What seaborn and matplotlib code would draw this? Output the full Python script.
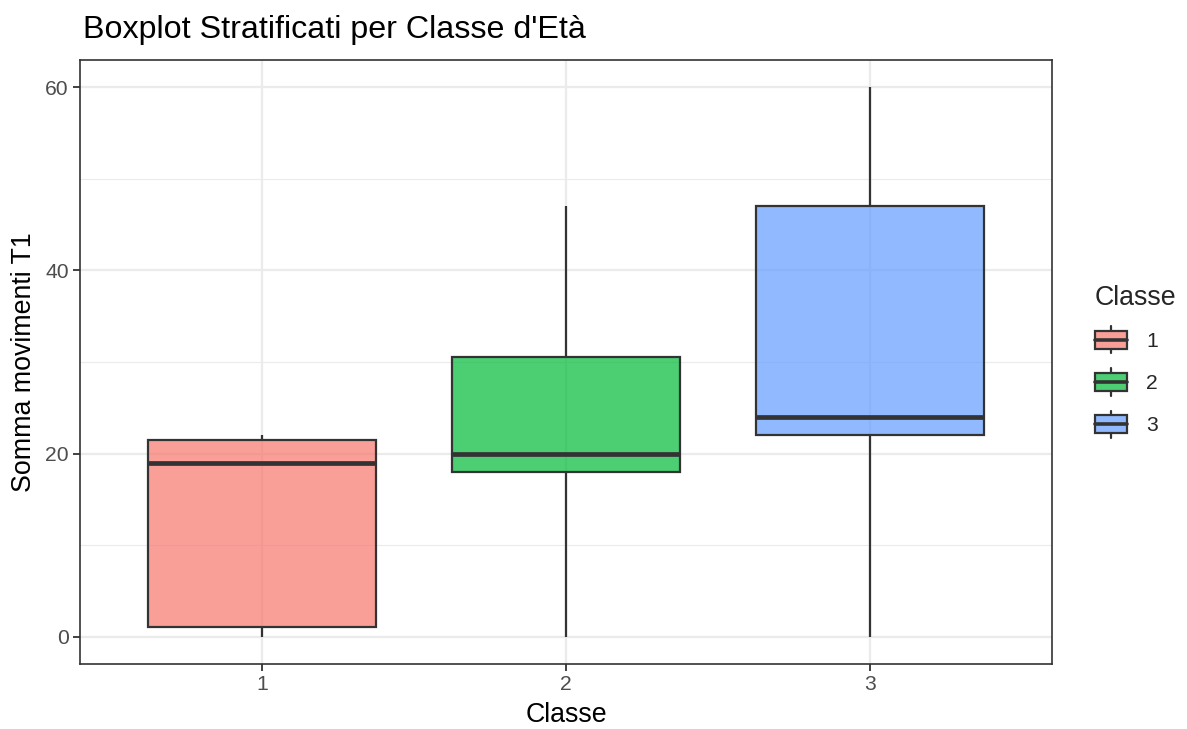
import matplotlib
matplotlib.use("Agg")
import matplotlib.pyplot as plt
import numpy as np
import pandas as pd
import seaborn as sns
from matplotlib.colors import to_rgba
from matplotlib.legend_handler import HandlerBase
from matplotlib.lines import Line2D
from matplotlib.patches import Rectangle
from matplotlib.ticker import MultipleLocator

# values
classes = ["1", "2", "3"]
low = [0, 0, 0]
q1 = [1, 18, 22]
median = [19, 20, 24]
q3 = [21.5, 30.5, 47]
high = [22, 47, 60]
colors = ["#F8766D", "#00BA38", "#619CFF"]

# five values per class give exactly these quartiles
rows = []
for c, a, b, m, d, e in zip(classes, low, q1, median, q3, high):
    for v in (a, b, m, d, e):
        rows.append({"Classe": c, "Somma movimenti T1": v})
df = pd.DataFrame(rows)

sns.set_theme(style="white")
plt.rcParams["font.family"] = ["Liberation Sans", "DejaVu Sans"]

edge = "#333333"
tick_fs, title_fs, main_fs = 15.2, 19.3, 23.2

fig = plt.figure(figsize=(11.87, 7.29), dpi=100)
ax = fig.add_axes([80 / 1187, 65 / 729, 972 / 1187, 604 / 729])

sns.boxplot(
    data=df, x="Classe", y="Somma movimenti T1", hue="Classe",
    palette=colors, saturation=1, width=0.75, whis=np.inf,
    showcaps=False, linecolor=edge, linewidth=1.6,
    medianprops=dict(linewidth=3.4, color=edge),
    legend=False, ax=ax, zorder=3,
)
for p in ax.patches:
    p.set_facecolor(to_rgba(p.get_facecolor()[:3], 0.7))

ax.set_xlim(-0.6, 2.6)
ax.set_ylim(-3, 63)
ax.set_yticks([0, 20, 40, 60])
ax.yaxis.set_minor_locator(MultipleLocator(10))
ax.grid(True, which="major", color="#EBEBEB", linewidth=1.6)
ax.grid(True, which="minor", axis="y", color="#EBEBEB", linewidth=0.8)
ax.set_axisbelow(True)
ax.tick_params(which="major", bottom=True, left=True, length=5, width=1.3,
               color=edge, labelsize=tick_fs, labelcolor="#4D4D4D", pad=3)
ax.tick_params(which="minor", length=0)
for s in ax.spines.values():
    s.set_color(edge)
    s.set_linewidth(1.2)
ax.set_xlabel("Classe", fontsize=title_fs, color="black", labelpad=6)
ax.set_ylabel("Somma movimenti T1", fontsize=title_fs, color="black", labelpad=6)

fig.text(83 / 1187, 1 - 30 / 729, "Boxplot Stratificati per Classe d'Età",
         fontsize=main_fs, color="black", ha="left", va="center")


class BoxKey(HandlerBase):
    def create_artists(self, legend, orig, xd, yd, w, h, fontsize, trans):
        x0, y0 = -xd, -yd
        cx = x0 + w / 2
        box = Rectangle((x0 + w * 0.03, y0 + h * 0.17), w * 0.94, h * 0.66,
                        facecolor=orig.get_facecolor(), edgecolor=edge,
                        linewidth=1.6, transform=trans)
        mid = Line2D([x0 + w * 0.03, x0 + w * 0.97], [y0 + h / 2] * 2,
                     color=edge, linewidth=2.6, transform=trans)
        top = Line2D([cx, cx], [y0 + h * 0.83, y0 + h],
                     color=edge, linewidth=1.6, transform=trans)
        bot = Line2D([cx, cx], [y0, y0 + h * 0.17],
                     color=edge, linewidth=1.6, transform=trans)
        return [top, bot, box, mid]


handles = [Rectangle((0, 0), 1, 1, facecolor=to_rgba(c, 0.7)) for c in colors]
leg = fig.legend(
    handles, classes, title="Classe", loc="upper left",
    bbox_to_anchor=(1088 / 1187, 1 - 279 / 729), frameon=False,
    fontsize=tick_fs, title_fontsize=title_fs, handler_map={Rectangle: BoxKey()},
    handlelength=1.6, handleheight=1.6, handletextpad=0.85, labelspacing=0.71,
    alignment="left", borderaxespad=0, borderpad=0.3,
)

fig.savefig("out.png", dpi=100)
